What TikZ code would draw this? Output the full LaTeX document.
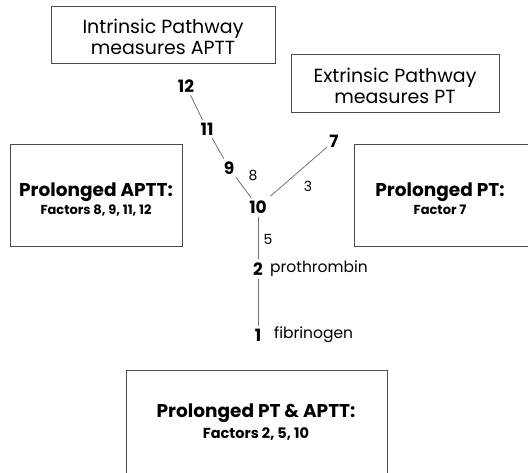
\documentclass[tikz,border=0pt]{standalone}
\usepackage{fontspec}
\setmainfont{Poppins}
\begin{document}
\begin{tikzpicture}[x=1pt,y=-1pt,
  box/.style={draw=black!70,line width=0.9pt},
  num/.style={font=\fontsize{17}{19}\selectfont\bfseries,inner sep=1pt},
  lbl/.style={font=\fontsize{14}{16}\selectfont,inner sep=0pt},
  txt/.style={font=\fontsize{19}{21.5}\selectfont,align=center,inner sep=0pt},
  ttl/.style={font=\fontsize{18.5}{20}\selectfont\bfseries,inner sep=0pt},
  fac/.style={font=\fontsize{13}{15}\selectfont\bfseries,inner sep=0pt},
  link/.style={draw=black!55,line width=0.8pt,shorten >=2pt,shorten <=2pt}]
\useasboundingbox (0,0) rectangle (528,472);
% boxes
\draw[box] (51,6) rectangle (275,63);
\draw[box] (291,54) rectangle (499,112);
\draw[box] (10,144) rectangle (182,246);
\draw[box] (354,144) rectangle (545,246);
\draw[box] (126,370) rectangle (387,490);
\node[txt] (intr) at (163,37) {Intrinsic Pathway\\measures APTT};
\node[txt] (extr) at (395,86) {Extrinsic Pathway\\measures PT};
\node[ttl] (aptt) at (96,192) {Prolonged APTT:};
\node[fac] (apttf) at (96,210) {Factors 8, 9, 11, 12};
\node[ttl] (pt) at (440,192) {Prolonged PT:};
\node[fac] (ptf) at (440,210) {Factor 7};
\node[ttl] (both) at (256,413) {Prolonged PT \& APTT:};
\node[fac,font=\fontsize{14.5}{16}\selectfont\bfseries] (bothf) at (256,434) {Factors 2, 5, 10};
% factors
\node[num] (n12) at (186,86) {12};
\node[num] (n11) at (207,129) {11};
\node[num] (n9) at (229,168) {9};
\node[num] (n10) at (258,207) {10};
\node[num] (n7) at (334,141) {7};
\node[num] (n2) at (258,269) {2};
\node[num] (n1) at (258,335) {1};
\node[lbl] (l8) at (253,175) {8};
\node[lbl] (l3) at (308,186) {3};
\node[lbl] (l5) at (268,239) {5};
\node[lbl,anchor=west,font=\fontsize{15.5}{17}\selectfont] (pro) at (270,269) {prothrombin};
\node[lbl,anchor=west,font=\fontsize{15.5}{17}\selectfont] (fib) at (274,335) {fibrinogen};
% links
\draw[link] (n12) -- (n11);
\draw[link] (n11) -- (n9);
\draw[link] (n9) -- (n10);
\draw[link,shorten >=5pt] (n7) -- (n10);
\draw[link] (n10) -- (n2);
\draw[link] (n2) -- (n1);
\end{tikzpicture}
\end{document}
